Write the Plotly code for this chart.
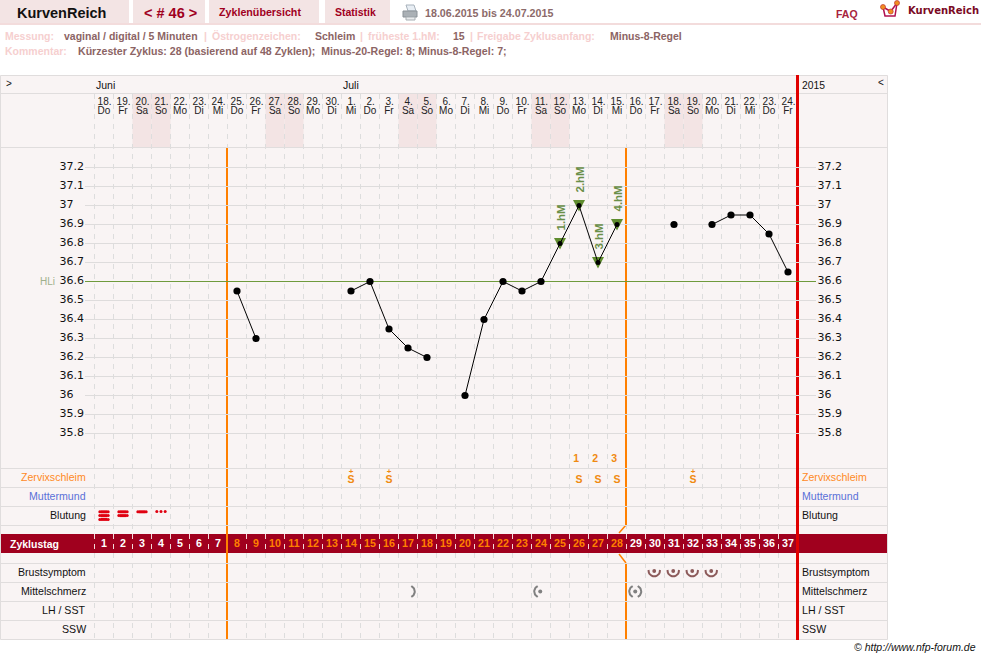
import math
import plotly.graph_objects as go

# ---------- data ----------
cycle_days = list(range(1, 38))
date_labels = ["18.","19.","20.","21.","22.","23.","24.","25.","26.","27.","28.","29.","30.",
               "1.","2.","3.","4.","5.","6.","7.","8.","9.","10.","11.","12.","13.","14.","15.",
               "16.","17.","18.","19.","20.","21.","22.","23.","24."]
weekday_labels = ["Do","Fr","Sa","So","Mo","Di","Mi"] * 5 + ["Do","Fr"]
temperature = [None]*7 + [36.55,36.3,None,None,None,None,36.55,36.6,36.35,36.25,36.2,None,
                          36.0,36.4,36.6,36.55,36.6,36.8,37.0,36.7,36.9,None,None,36.9,None,
                          36.9,36.95,36.95,36.85,36.65]
temp_ticks = [35.8,35.9,36.0,36.1,36.2,36.3,36.4,36.5,36.6,36.7,36.8,36.9,37.0,37.1,37.2]
temp_tick_labels = ["35.8","35.9","36","36.1","36.2","36.3","36.4","36.5","36.6","36.7","36.8","36.9","37","37.1","37.2"]
hl_level = 36.6
hm_days = [25,26,27,28]
hm_temps = [36.8,37.0,36.7,36.9]
hm_labels = ["1.hM","2.hM","3.hM","4.hM"]
mucus_plus_days = [14,16,32]
mucus_days = [26,27,28]
mucus_counts = ["1","2","3"]
bleed_days = [1,2,3]
bleed_levels = [3,2,1]
spot_day = 4
breast_days = [30,31,32,33]
pain = [(17,False,True,False),(24,True,False,True),(29,True,True,True)]
row_labels_left = ["Zervixschleim","Muttermund","Blutung","Brustsymptom","Mittelschmerz","LH / SST","SSW"]
row_label_y = [477,496,515,572,591,610,629]
row_colors = ["#ff8a1e","#5a70d8","#111","#111","#111","#111","#111"]
weekend_days = [3,4,10,11,17,18,24,25,31,32]
coverline_start_day = 8
luteal_start_day = 29
last_day = 37

W, H = 981, 659
PX_PER_DEG = 190
px_day = lambda d: 85 + 19*d          # centre of a day column in page pixels
def_x0 = 94.5

ORANGE = "#ff8000"; RED = "#e00000"; DARK = "#a0001e"; PANEL = "#f9f4f4"; WEEK = "#f3e4e4"; GRID = "#e0dddd"
shapes, anns = [], []

def rect(x0,y0,x1,y1,fill):
    shapes.append(dict(type="rect",xref="x2",yref="y2",x0=x0,y0=y0,x1=x1,y1=y1,fillcolor=fill,line_width=0,layer="below"))
def line(x0,y0,x1,y1,color,w=1,dash=None):
    shapes.append(dict(type="line",xref="x2",yref="y2",x0=x0,y0=y0,x1=x1,y1=y1,layer="below",
                       line=dict(color=color,width=w,dash=dash or "solid")))
def path(d,fill=None,color=None,w=1):
    shapes.append(dict(type="path",xref="x2",yref="y2",path=d,fillcolor=fill or "rgba(0,0,0,0)",layer="below",
                       line=dict(color=color or "rgba(0,0,0,0)",width=w if color else 0)))
def T(x,y,s,size=11,color="#111",anchor="left",bold=False,family="Liberation Sans",italic=False,angle=0):
    if bold: s=f"<b>{s}</b>"
    if italic: s=f"<i>{s}</i>"
    x = x-1 if anchor=="left" else x+1
    anns.append(dict(xref="x2",yref="y2",x=x,y=y,text=s,showarrow=False,xanchor=anchor,yanchor="middle",
                     font=dict(size=size,color=color,family=family),borderpad=0,textangle=angle))

# ---------- header ----------
for a,b in [(0,129),(133,205),(209,319),(325,390)]:
    rect(a,0,b,23,WEEK)
rect(0,23,981,25,"#f3dcdc")
T(16.5,12.5,"KurvenReich",14.5,"#111",bold=True)
T(143.5,12.5,"&lt; # 46 &gt;",14.5,DARK,bold=True)
T(219,12,"Zyklenübersicht",10.7,DARK,bold=True)
T(335,12,"Statistik",10.5,DARK,bold=True)
T(425,12.5,"18.06.2015 bis 24.07.2015",10.7,"#8c6a6a",bold=True)
T(836,14,"FAQ",10.5,"#a8233c",bold=True)
T(908,10.5,"KurvenReich",10,"#7a0a24",bold=True,family="DejaVu Sans")
# printer icon
path("M 406 5 L 414 5 L 416 11 L 408 11 Z",fill="#e8eef4",color="#a8b2bc")
path("M 403 11 L 417 11 L 417 17 L 403 17 Z",fill="#aab0b5",color="#8b9298")
path("M 406 17 L 415 17 L 415 20 L 406 20 Z",fill="#e8eaec",color="#a8aeb2")
# logo
path("M 883 7 L 885 16 L 895 16 L 897 3",color="#b01050",w=1.5)
path("M 883 7 L 890.7 11.5 L 897 3",color="#b01050",w=1.5)
for cx,cy in [(883,7),(890.7,11.5),(897,3)]:
    shapes.append(dict(type="circle",xref="x2",yref="y2",x0=cx-2.5,x1=cx+2.5,y0=cy-2.5,y1=cy+2.5,
                       fillcolor="#f09020",line=dict(color="#c03030",width=.7),layer="below"))

# info lines
PINK="#f6cfcf"; BR="#8c6464"
for x,s,c in [(5,"Messung:",PINK),(64,"vaginal / digital / 5 Minuten",BR),(204,"|",PINK),(212,"Östrogenzeichen:",PINK),
              (315,"Schleim",BR),(360,"|",PINK),(368,"früheste 1.hM:",PINK),(453,"15",BR),(470,"|",PINK),
              (477,"Freigabe Zyklusanfang:",PINK),(610,"Minus-8-Regel",BR)]:
    T(x,36,s,10.5,c,bold=True)
T(5,51,"Kommentar:",10.5,PINK,bold=True)
T(78,51,"Kürzester Zyklus: 28 (basierend auf 48 Zyklen);&nbsp; Minus-20-Regel: 8; Minus-8-Regel: 7;",10.6,BR,bold=True)

# ---------- table ----------
rect(0.5,75.5,887.5,639.5,PANEL)
for d in weekend_days:
    rect(px_day(d)-9.5,94,px_day(d)+9.5,147.5,WEEK)

# temperature grid (positioned by the temperature axis)
for t in temp_ticks:
    shapes.append(dict(type="line",xref="x2",yref="y",x0=85,x1=816,y0=t,y1=t,layer="below",
                       line=dict(color="#dedcdc",width=1)))
shapes.append(dict(type="line",xref="x2",yref="y",x0=85,x1=816,y0=hl_level,y1=hl_level,layer="below",
                   line=dict(color="#6f9a3c",width=1)))

# dashed columns
for i in range(38):
    x = 94.5+19*i
    if i < 37:
        line(x,94,x,534,"#dddddd",1,"5px,5px")
        line(x,553,x,639.5,"#dddddd",1,"5px,5px")

# band
rect(0.5,534,887.5,553,DARK)
for i in range(37):
    x = 94.5+19*i
    line(x,534,x,553,"#f3d8d8",1,"5px,5px")

# orange cycle-phase lines
xa = def_x0+19*(coverline_start_day-1)-0.5
xb = def_x0+19*(luteal_start_day-1)-0.5
line(xa,147.5,xa,639.5,ORANGE,2)
line(xb,147.5,xb,525,ORANGE,2)
line(xb,525,xb-7,533,ORANGE,1.5)
line(xb-7,554,xb,563,ORANGE,1.5)
line(xb,563,xb,639.5,ORANGE,2)

# rows
line(0.5,93.5,887.5,93.5,GRID,1)
line(0.5,147.5,887.5,147.5,GRID,1)
for y in [468.5,487.5,506.5,525.5,563.5,582.5,601.5,620.5]:
    line(0.5,y,887.5,y,GRID,1)
shapes.append(dict(type="rect",xref="x2",yref="y2",x0=0.5,y0=75.5,x1=887.5,y1=639.5,line=dict(color=GRID,width=1),layer="below"))

# red end line
xr = def_x0+19*last_day
line(xr,75,xr,640,RED,3)

# higher-measurement triangles, anchored to the data, sized in pixels
for d,t in zip(hm_days,hm_temps):
    shapes.append(dict(type="path",xref="x",yref="y",xsizemode="pixel",ysizemode="pixel",xanchor=d,yanchor=t,
                       path="M -6 5.5 L 6 5.5 L 0 -6 Z",fillcolor="#5f8c2e",line_width=0,layer="below"))

# header text in table
T(6,83,"&gt;",10,"#111",anchor="left")
T(96,85,"Juni",10.5)
T(343,85,"Juli",10.5)
T(802,85,"2015",10.3)
T(884,82,"&lt;",10,"#111",anchor="right")
T(10,543.5,"Zyklustag",10.5,"#ffffff",bold=True)
for s,y,c in zip(row_labels_left,row_label_y,row_colors):
    T(85.5,y,s,10.6,c,anchor="right")
    T(802,y,s,10.6,c)
T(975.5,647,"© http://www.nfp-forum.de",10.5,"#111",anchor="right",italic=True)
T(40,281,"HLi",10,"#9fb08c")

# ---------- traces ----------
fig = go.Figure()
txt = lambda **k: fig.add_trace(go.Scatter(mode="text",hoverinfo="skip",showlegend=False,cliponaxis=False,**k))

txt(x=[d+0.03 for d in cycle_days],y=[102]*37,yaxis="y2",text=date_labels,textfont=dict(size=10,color="#222",family="Liberation Sans"))
txt(x=cycle_days,y=[111.5]*37,yaxis="y2",text=weekday_labels,textfont=dict(size=10,color="#222",family="Liberation Sans"))
txt(x=[59.5]*15,y=temp_ticks,xaxis="x2",text=temp_tick_labels,textposition="middle right",textfont=dict(size=11,color="#111",family="DejaVu Sans"))
txt(x=[817.5]*15,y=temp_ticks,xaxis="x2",text=temp_tick_labels,textposition="middle right",textfont=dict(size=11,color="#111",family="DejaVu Sans"))

# cycle-day numbers
def day_color(d):
    return ORANGE if coverline_start_day <= d < luteal_start_day else "#ffffff"
txt(x=cycle_days,y=[544]*37,yaxis="y2",text=[f"<b>{d}</b>" for d in cycle_days],
    textfont=dict(size=10.7,color=[day_color(d) for d in cycle_days],family="Liberation Sans"))

# mucus
txt(x=mucus_plus_days+mucus_days,y=[480.5]*6,yaxis="y2",text=["<b>S</b>"]*6,textfont=dict(size=10.5,color="#f08a10",family="Liberation Sans"))
txt(x=mucus_plus_days,y=[471.5]*3,yaxis="y2",text=["<b>+</b>"]*3,textfont=dict(size=8,color="#f08a10",family="Liberation Sans"))
txt(x=[d-0.15 for d in mucus_days],y=[459]*3,yaxis="y2",text=[f"<b>{c}</b>" for c in mucus_counts],textfont=dict(size=10.5,color="#f08a10",family="Liberation Sans"))

# bleeding bars
for d,n in zip(bleed_days,bleed_levels):
    for k in range(n):
        y = 511.8+3.8*k
        fig.add_trace(go.Scatter(x=[d-0.18,d+0.18],y=[y,y],xaxis="x",yaxis="y2",mode="lines",hoverinfo="skip",showlegend=False,
                                 line=dict(color="#e00010",width=3)))
        fig.add_trace(go.Scatter(x=[d-0.22,d+0.22],y=[y,y],xaxis="x",yaxis="y2",mode="markers",hoverinfo="skip",showlegend=False,
                                 marker=dict(color="#e00010",size=3)))
fig.add_trace(go.Scatter(x=[spot_day-0.22,spot_day,spot_day+0.22],y=[511.5]*3,yaxis="y2",mode="markers",hoverinfo="skip",showlegend=False,
                         marker=dict(color="#e00010",size=3)))

# arcs helper
def arc(d,yc,r,a0,a1,color,w):
    n=14
    xs=[d + r*math.cos(math.radians(a0+(a1-a0)*i/n))/19 for i in range(n+1)]
    ys=[yc + r*math.sin(math.radians(a0+(a1-a0)*i/n)) for i in range(n+1)]
    fig.add_trace(go.Scatter(x=xs,y=ys,yaxis="y2",mode="lines",hoverinfo="skip",showlegend=False,line=dict(color=color,width=w)))
BROWN="#8c5a5a"
for d in breast_days:
    arc(d-0.04,570.5,5.8,-5,185,BROWN,2)
fig.add_trace(go.Scatter(x=[d-0.04 for d in breast_days],y=[571]*4,yaxis="y2",mode="markers",hoverinfo="skip",showlegend=False,marker=dict(color=BROWN,size=3.8)))
GREY="#808080"
for d,left,right,dot in pain:
    c = d-0.04
    if left: arc(c,591.5,6,115,245,GREY,2)
    if right: arc(c+(0.08 if not left else 0),591.5,6,-65,65,GREY,2)
    if dot:
        fig.add_trace(go.Scatter(x=[c],y=[591.5],yaxis="y2",mode="markers",hoverinfo="skip",showlegend=False,marker=dict(color=GREY,size=4)))

# temperature curve (smaller dots where a higher-measurement triangle sits)
plain_temps = [None if d in hm_days else t for d,t in zip(cycle_days,temperature)]
fig.add_trace(go.Scatter(x=cycle_days,y=temperature,mode="lines",connectgaps=False,hoverinfo="skip",showlegend=False,
                         line=dict(color="#000",width=1)))
fig.add_trace(go.Scatter(x=cycle_days,y=plain_temps,mode="markers",hoverinfo="skip",showlegend=False,
                         marker=dict(color="#000",size=7.2)))
fig.add_trace(go.Scatter(x=hm_days,y=hm_temps,mode="markers",hoverinfo="skip",showlegend=False,
                         marker=dict(color="#000",size=5)))
# higher-measurement labels
for d,t,s in zip(hm_days,hm_temps,hm_labels):
    anns.append(dict(xref="x",yref="y",x=d,y=t,text=f"<b>{s}</b>",showarrow=False,textangle=-90,yshift=26,
                     font=dict(size=11.5,color="#6a8f48",family="Liberation Sans"),borderpad=0))

# ---------- axes: one pair in data units, one pair in page pixels ----------
fig.update_layout(
    width=W,height=H,margin=dict(l=0,r=0,t=0,b=0),paper_bgcolor="#fff",plot_bgcolor="rgba(0,0,0,0)",showlegend=False,
    xaxis=dict(range=[(0-85)/19,(W-85)/19],visible=False,fixedrange=True,domain=[0,1]),
    yaxis=dict(range=[hl_level-(H-281.5)/PX_PER_DEG,hl_level+281.5/PX_PER_DEG],visible=False,fixedrange=True,domain=[0,1]),
    xaxis2=dict(range=[0,W],overlaying="x",visible=False,fixedrange=True),
    yaxis2=dict(range=[H,0],overlaying="y",visible=False,fixedrange=True),
    shapes=shapes,annotations=anns,
)
fig.write_html("out.html",config=dict(displayModeBar=False),
               post_script="document.body.style.margin='0';document.body.style.overflow='hidden';")
